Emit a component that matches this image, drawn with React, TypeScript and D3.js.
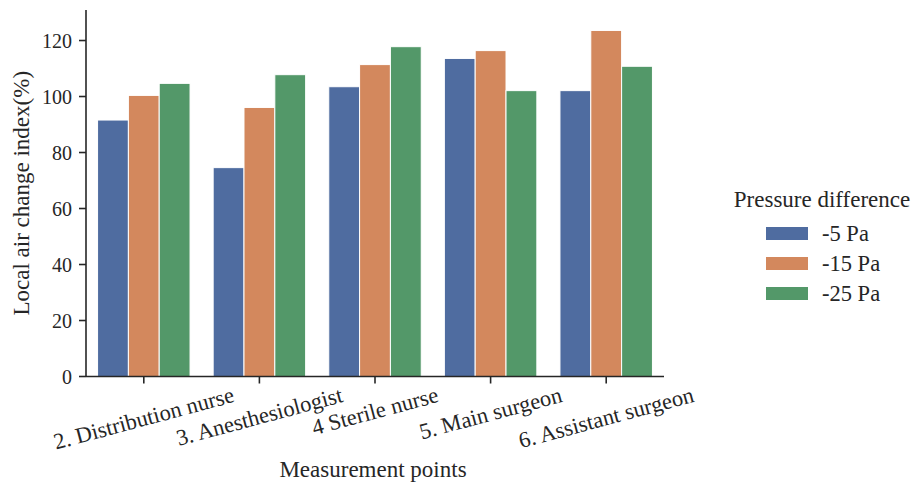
import React, { useEffect, useRef } from "react";
import * as d3 from "d3";

const categories = [
  "2. Distribution nurse",
  "3. Anesthesiologist",
  "4 Sterile nurse",
  "5. Main surgeon",
  "6. Assistant surgeon",
];
const seriesNames = ["-5 Pa", "-15 Pa", "-25 Pa"];
const pa5 = [91.6, 74.6, 103.5, 113.6, 102.1];
const pa15 = [100.4, 96.1, 111.4, 116.4, 123.6];
const pa25 = [104.7, 107.8, 117.8, 102.1, 110.8];
const yTicks = [0, 20, 40, 60, 80, 100, 120];
const colors = ["#4f6ca0", "#d3885d", "#539869"];

export default function App() {
  const ref = useRef<SVGSVGElement>(null);
  useEffect(() => {
    const svg = d3.select(ref.current);
    svg.selectAll("*").remove();
    const left = 86, right = 664, top = 10, bottom = 376.5;
    const font = "'Liberation Serif', 'Times New Roman', serif";
    const series = [pa5, pa15, pa25];
    const tickFs = 20, xTickFs = 22.5, labelFs = 23;

    const x = d3.scaleBand<string>().domain(categories).range([left, right]).paddingInner(0).paddingOuter(0);
    const bw = x.bandwidth();
    const inner = d3.scaleBand<string>().domain(seriesNames).range([0, bw * 0.8]);
    const y = d3.scaleLinear().domain([0, 130.9]).range([bottom, top]);

    const g = svg.append("g");
    series.forEach((vals, si) => {
      g.selectAll(null)
        .data(vals)
        .enter()
        .append("rect")
        .attr("x", (_, i) => (x(categories[i]) as number) + bw * 0.1 + (inner(seriesNames[si]) as number))
        .attr("y", (d) => y(d))
        .attr("width", inner.bandwidth())
        .attr("height", (d) => y(0) - y(d))
        .attr("fill", colors[si])
        .attr("stroke", "#ffffff")
        .attr("stroke-width", 1);
    });

    svg.append("line").attr("x1", left).attr("x2", left).attr("y1", top).attr("y2", bottom)
      .attr("stroke", "#262626").attr("stroke-width", 1.6);
    svg.append("line").attr("x1", left).attr("x2", right).attr("y1", bottom).attr("y2", bottom)
      .attr("stroke", "#262626").attr("stroke-width", 1.6);

    yTicks.forEach((t) => {
      svg.append("line").attr("x1", left - 7).attr("x2", left).attr("y1", y(t)).attr("y2", y(t))
        .attr("stroke", "#262626").attr("stroke-width", 1.6);
      svg.append("text").attr("x", left - 14).attr("y", y(t)).attr("dy", "0.35em")
        .attr("text-anchor", "end").attr("font-family", font).attr("font-size", tickFs)
        .attr("fill", "#262626").text(String(t));
    });

    const ang = (15 * Math.PI) / 180;
    categories.forEach((c) => {
      const cx = (x(c) as number) + bw / 2;
      svg.append("line").attr("x1", cx).attr("x2", cx).attr("y1", bottom).attr("y2", bottom + 7)
        .attr("stroke", "#262626").attr("stroke-width", 1.6);
      const t = svg.append("text").attr("font-family", font).attr("font-size", xTickFs)
        .attr("fill", "#262626").attr("text-anchor", "middle").attr("dominant-baseline", "central")
        .text(c);
      const w = (t.node() as SVGTextElement).getComputedTextLength();
      const h = xTickFs * 0.9;
      const bh = w * Math.sin(ang) + h * Math.cos(ang);
      const cy = bottom + 8 + bh / 2;
      t.attr("transform", `translate(${cx},${cy}) rotate(-15)`);
    });

    svg.append("text").attr("x", 373).attr("y", 477).attr("text-anchor", "middle")
      .attr("font-family", font).attr("font-size", labelFs).attr("fill", "#262626").text("Measurement points");
    svg.append("text").attr("transform", `translate(29,${(top + bottom) / 2}) rotate(-90)`)
      .attr("text-anchor", "middle").attr("font-family", font).attr("font-size", labelFs)
      .attr("fill", "#262626").text("Local air change index(%)");

    svg.append("text").attr("x", 822).attr("y", 207).attr("text-anchor", "middle")
      .attr("font-family", font).attr("font-size", labelFs).attr("fill", "#262626").text("Pressure difference");
    seriesNames.forEach((s, i) => {
      const yy = 227 + i * 30;
      svg.append("rect").attr("x", 766).attr("y", yy).attr("width", 42).attr("height", 13)
        .attr("fill", colors[i]);
      svg.append("text").attr("x", 822).attr("y", yy + 6.5).attr("dy", "0.35em")
        .attr("font-family", font).attr("font-size", xTickFs).attr("fill", "#262626").text(s);
    });
  }, []);
  return (
    <svg ref={ref} width={914} height={486} style={{ position: "absolute", left: 0, top: 0, background: "#fff" }} />
  );
}
